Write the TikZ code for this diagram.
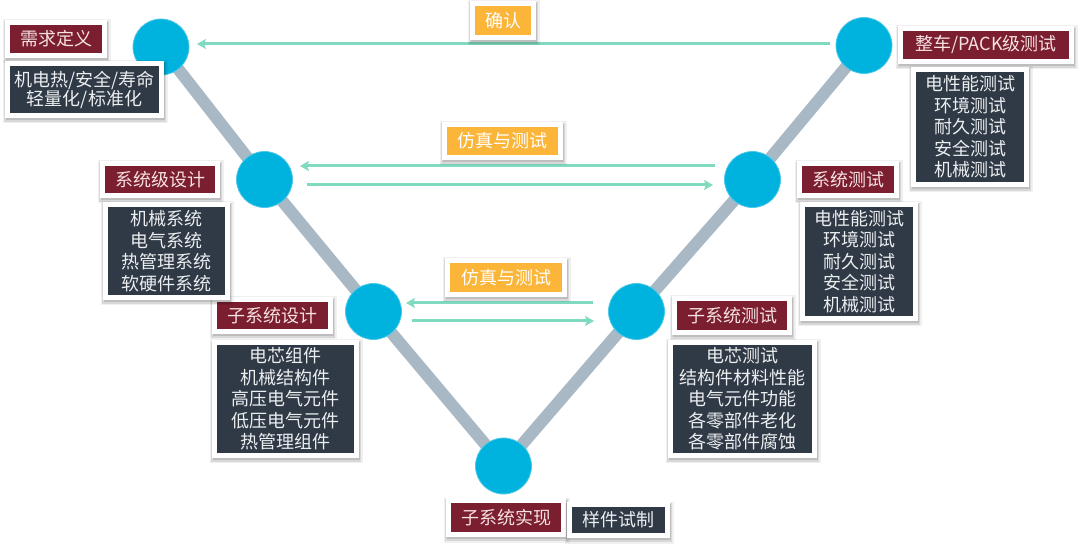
\documentclass[tikz,border=0pt]{standalone}
\usepackage{fontspec}
\newfontfamily\cjk{Noto Sans CJK SC}
\usetikzlibrary{arrows.meta,shadows,backgrounds}
\definecolor{cblue}{RGB}{0,178,222}
\definecolor{cred}{RGB}{122,30,48}
\definecolor{cdark}{RGB}{47,58,70}
\definecolor{corange}{RGB}{251,181,56}
\definecolor{cteal}{RGB}{128,218,192}
\definecolor{cvline}{RGB}{168,184,196}
\definecolor{credtxt}{RGB}{246,226,226}
\definecolor{cdarktxt}{RGB}{236,238,240}
\begin{document}
\begin{tikzpicture}[x=1pt,y=-1pt,
  circ/.style={circle,fill=cblue,draw=cblue!70!white,line width=0.8pt,minimum size=56pt,inner sep=0pt},
  vline/.style={cvline,line width=12pt},
  arr/.style={cteal,line width=3pt,-{Stealth[length=9pt,width=10pt,inset=2pt]}},
  box/.style={draw=white,line width=5pt,inner sep=0pt,align=center,
    general shadow={shadow xshift=0.5pt,shadow yshift=-2.5pt,fill=black,draw=black,line width=11pt,opacity=0.06},
    general shadow={shadow xshift=0.5pt,shadow yshift=-2.5pt,fill=black,draw=black,line width=8pt,opacity=0.10},
    general shadow={shadow xshift=0.5pt,shadow yshift=-2pt,fill=black,draw=black,line width=5pt,opacity=0.12},
    font=\cjk\fontsize{18}{21.5}\selectfont},
  redbox/.style={box,fill=cred,text=credtxt},
  darkbox/.style={box,fill=cdark,text=cdarktxt},
  orbox/.style={box,fill=corange,text=white},
  sz/.style n args={2}{minimum width=#1,minimum height=#2}
]
\useasboundingbox (0,0) rectangle (1080,545);

% circles
\node[circ] (c1) at (161,47) {};
\node[circ] (c3) at (264.5,179.5) {};
\node[circ] (c5) at (373.5,311.5) {};
\node[circ] (c7) at (503.5,466) {};
\node[circ] (c6) at (636.5,311.5) {};
\node[circ] (c4) at (752.5,179.5) {};
\node[circ] (c2) at (864,45.5) {};

\begin{scope}[on background layer]
  \draw[vline] (c1.center) -- (c3.center) -- (c5.center) -- (c7.center)
    -- (c6.center) -- (c4.center) -- (c2.center);
\end{scope}

% arrow end points
\coordinate (a1s) at (830,44);   \coordinate (a1e) at (197,44);
\coordinate (a2s) at (715,166);  \coordinate (a2e) at (300,166);
\coordinate (a3s) at (307,185);  \coordinate (a3e) at (713,185);
\coordinate (a4s) at (593,303);  \coordinate (a4e) at (406,303);
\coordinate (a5s) at (412,321);  \coordinate (a5e) at (594,321);
\draw[arr] (a1s) -- (a1e);
\draw[arr] (a2s) -- (a2e);
\draw[arr] (a3s) -- (a3e);
\draw[arr] (a4s) -- (a4e);
\draw[arr] (a5s) -- (a5e);

% orange labels
\node[orbox,sz={61pt}{34pt}] (o1) at (503,20.5) {确认};
\node[orbox,sz={116pt}{33pt}] (o2) at (502.5,141) {仿真与测试};
\node[orbox,sz={117pt}{34pt}] (o3) at (506,277.5) {仿真与测试};

% red labels
\node[redbox,sz={97pt}{33pt}] (r1) at (56,39) {需求定义};
\node[redbox,sz={171pt}{33pt}] (r2) at (986,45) {整车/PACK级测试};
\node[redbox,sz={115pt}{32pt}] (r3) at (160,179.5) {系统级设计};
\node[redbox,sz={97pt}{32pt}] (r4) at (848,179.5) {系统测试};
\node[redbox,sz={116pt}{32pt}] (r5) at (272.5,315.5) {子系统设计};
\node[redbox,sz={115pt}{34pt}] (r6) at (732,315.5) {子系统测试};
\node[redbox,sz={115pt}{34pt}] (r7) at (506,517.5) {子系统实现};

% dark lists
\node[darkbox,sz={154pt}{52pt},font=\cjk\fontsize{18}{19}\selectfont] (d1) at (84.5,89.5) {机电热/安全/寿命\\轻量化/标准化};
\node[darkbox,sz={113pt}{115pt}] (d2) at (970,127) {电性能测试\\环境测试\\耐久测试\\安全测试\\机械测试};
\node[darkbox,sz={122pt}{93pt}] (d3) at (166.5,251) {机械系统\\电气系统\\热管理系统\\软硬件系统};
\node[darkbox,sz={113pt}{114pt}] (d4) at (859,261.5) {电性能测试\\环境测试\\耐久测试\\安全测试\\机械测试};
\node[darkbox,sz={142pt}{113pt}] (d5) at (285.5,399) {电芯组件\\机械结构件\\高压电气元件\\低压电气元件\\热管理组件};
\node[darkbox,sz={144pt}{113pt}] (d6) at (742.5,399) {电芯测试\\结构件材料性能\\电气元件功能\\各零部件老化\\各零部件腐蚀};
\node[darkbox,sz={98pt}{31pt}] (d7) at (618.5,520) {样件试制};
\end{tikzpicture}
\end{document}
